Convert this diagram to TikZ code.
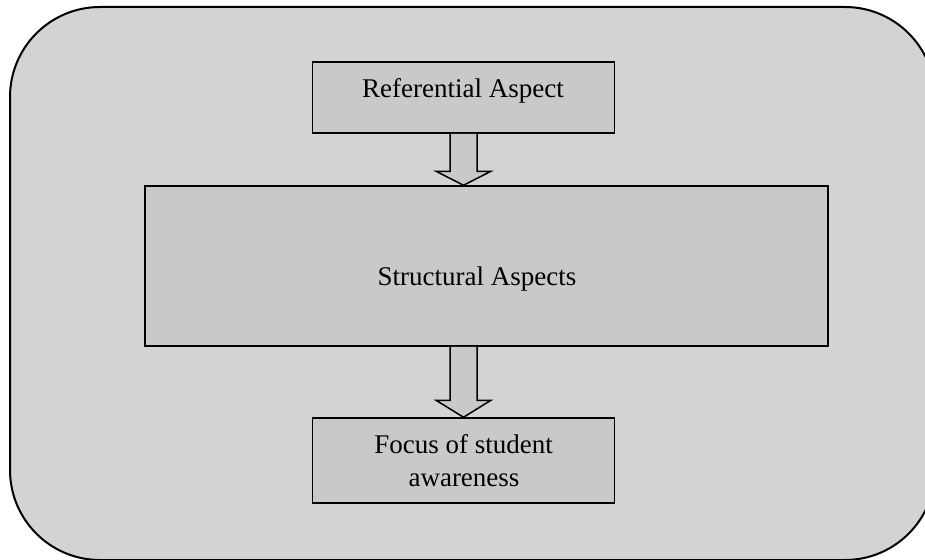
\documentclass[tikz,border=0pt]{standalone}
\usepackage{fontspec}
\setmainfont{Liberation Serif}
\usetikzlibrary{calc}
\definecolor{panelgray}{HTML}{D3D3D3}
\definecolor{boxgray}{HTML}{C9C9C9}
\tikzset{
  panel/.style={draw=black, line width=2pt, fill=panelgray, rounded corners=90pt,
    inner sep=0pt, minimum width=925pt, minimum height=553pt},
  stagebox/.style={draw=black, line width=1.5pt, fill=boxgray, inner sep=0pt},
  lbl/.style={font=\fontsize{27}{33}\selectfont, inner sep=0pt, align=center},
  blockarrow/.style={draw=black, line width=1.5pt, fill=boxgray, line join=miter}
}
\begin{document}
\begin{tikzpicture}[x=1pt, y=-1pt]
  \useasboundingbox (0,0) rectangle (925,559);
  \clip (0,0) rectangle (925,559);

  % outer rounded panel (runs past the right and bottom edges)
  \node[panel] (frame) at (472.5,283.5) {};

  % the three stages
  \node[stagebox, minimum width=302pt, minimum height=71pt] (ref) at (463.5,97.5) {};
  \node[stagebox, minimum width=683pt, minimum height=160pt] (struct) at (486.5,266) {};
  \node[stagebox, minimum width=302pt, minimum height=85pt] (focus) at (463.5,460.5) {};

  % stage labels
  \node[lbl, anchor=base] (reftxt) at (463,98) {Referential Aspect};
  \node[lbl, anchor=base] (structtxt) at (477,285) {Structural Aspects};
  \node[lbl, anchor=base] (focustxt1) at (463.5,453) {Focus of student};
  \node[lbl, anchor=base] (focustxt2) at (464,486) {awareness};

  % hollow block arrows between the stages
  \coordinate (tipA) at (ref.south |- struct.north);
  \path[blockarrow]
    ($(ref.south)+(-13.5,0)$) -- ($(tipA)+(-13.5,-14)$) -- ($(tipA)+(-27.5,-14)$)
    -- (tipA) -- ($(tipA)+(27.5,-14)$) -- ($(tipA)+(13.5,-14)$) -- ($(ref.south)+(13.5,0)$);

  \coordinate (srcB) at (struct.south -| ref.south);
  \coordinate (tipB) at (focus.north);
  \path[blockarrow]
    ($(srcB)+(-13.5,0)$) -- ($(tipB)+(-13.5,-17)$) -- ($(tipB)+(-27.5,-17)$)
    -- (tipB) -- ($(tipB)+(27.5,-17)$) -- ($(tipB)+(13.5,-17)$) -- ($(srcB)+(13.5,0)$);
\end{tikzpicture}
\end{document}
